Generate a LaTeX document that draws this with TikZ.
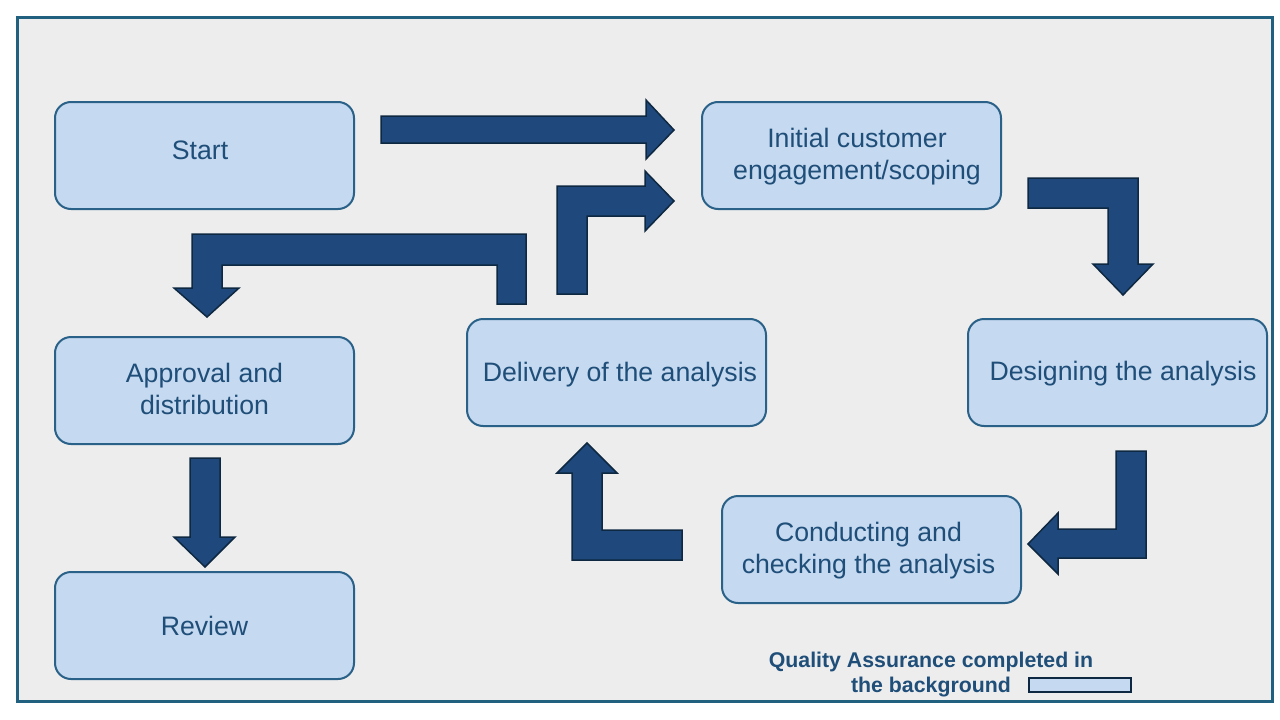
\documentclass[tikz,border=0pt]{standalone}
\usepackage{fontspec}
\setmainfont{Liberation Sans}
\definecolor{frameC}{HTML}{21607F}
\definecolor{bgC}{HTML}{EDEDED}
\definecolor{boxFill}{HTML}{C5D9F0}
\definecolor{boxLine}{HTML}{2A6188}
\definecolor{txtC}{HTML}{1F4E79}
\definecolor{arrFill}{HTML}{1F497D}
\definecolor{arrLine}{HTML}{0E2841}
\tikzset{
  stepbox/.style={draw=boxLine, fill=boxFill, line width=2pt, rounded corners=16pt,
    minimum width=299pt, minimum height=107pt, inner sep=0pt},
  steptext/.style={align=center, text=txtC, inner sep=0pt,
    font=\fontsize{26.67}{32}\selectfont},
  blockarrow/.style={fill=arrFill, draw=arrLine, line width=1.5pt, line join=miter},
  legendtext/.style={text=txtC, align=center, font=\bfseries\fontsize{21.3}{25}\selectfont, inner sep=0pt},
}
\begin{document}
\begin{tikzpicture}[x=1pt,y=-1pt]
\useasboundingbox (0,0) rectangle (1280,720);
\fill[white] (0,0) rectangle (1280,720);
% outer frame
\draw[frameC, fill=bgC, line width=3pt] (17,17.5) rectangle (1272.5,701);

% process boxes
\node[stepbox, label={[steptext, xshift=-4.5pt, yshift=5pt]center:Start}] (start) at (204.5,155.5) {};
\node[stepbox, label={[steptext, xshift=5.5pt, yshift=-1.5pt]center:Initial customer\\engagement/scoping}] (init) at (851.5,155.5) {};
\node[stepbox, label={[steptext, xshift=5.5pt, yshift=-1pt]center:Designing the analysis}] (design) at (1117.5,372.5) {};
\node[stepbox, label={[steptext, xshift=-3pt, yshift=-1pt]center:Conducting and\\checking the analysis}] (conduct) at (871.5,549.5) {};
\node[stepbox, label={[steptext, xshift=3.5pt, yshift=-2pt]center:Delivery of the analysis}] (deliver) at (616.5,372.5) {};
\node[stepbox, label={[steptext, yshift=2pt]center:Approval and\\distribution}] (approve) at (204.5,390.5) {};
\node[stepbox, label={[steptext]center:Review}] (review) at (204.5,625.5) {};

% block arrows
% start -> init
\draw[blockarrow] (381,116) -- (646,116) -- (646,100) -- (674,130) -- (646,159) -- (646,143) -- (381,143) -- cycle;
% deliver -> init
\draw[blockarrow] (557,294) -- (557,186) -- (645,186) -- (645,171) -- (674,201) -- (645,231) -- (645,216) -- (587,216) -- (587,294) -- cycle;
% init -> design
\draw[blockarrow] (1028,178) -- (1138,178) -- (1138,264) -- (1153,264) -- (1123,295) -- (1093,264) -- (1108,264) -- (1108,208) -- (1028,208) -- cycle;
% design -> conduct
\draw[blockarrow] (1116,451) -- (1146,451) -- (1146,558) -- (1058,558) -- (1058,574) -- (1028,544) -- (1058,513) -- (1058,529) -- (1116,529) -- cycle;
% conduct -> deliver
\draw[blockarrow] (682,530) -- (682,560) -- (572,560) -- (572,473) -- (557,473) -- (587,443) -- (617,473) -- (602,473) -- (602,530) -- cycle;
% deliver -> approve
\draw[blockarrow] (526,304) -- (526,234) -- (192,234) -- (192,288) -- (174,288) -- (207,317) -- (239,288) -- (222,288) -- (222,265) -- (497,265) -- (497,304) -- cycle;
% approve -> review
\draw[blockarrow] (190,458) -- (220,458) -- (220,537) -- (235,537) -- (205,567) -- (174,537) -- (190,537) -- cycle;

% legend
\node[legendtext] (legend) at (931,674.5) {Quality Assurance completed in\\the background};
\draw[draw=arrLine, fill=boxFill, line width=2pt] (1029,678) rectangle (1131,692);
\end{tikzpicture}
\end{document}
